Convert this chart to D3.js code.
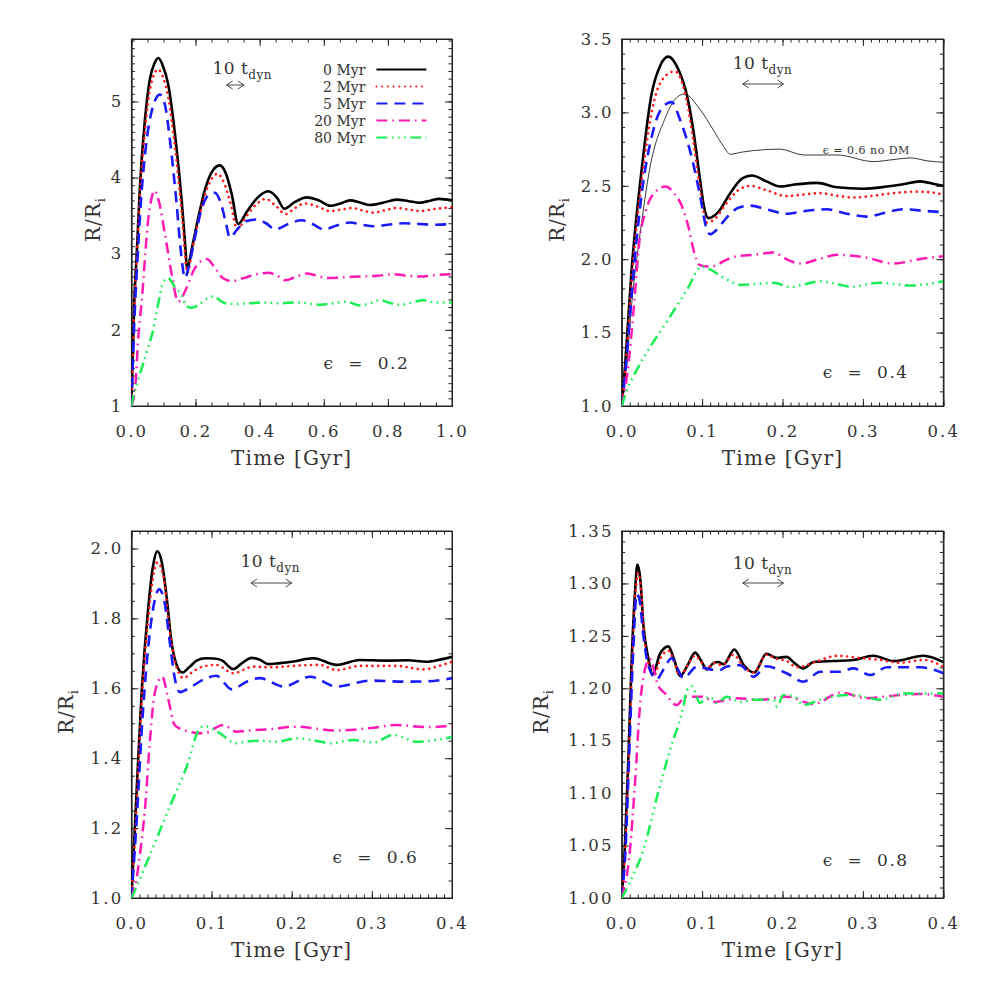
<!DOCTYPE html>
<html><head><meta charset="utf-8">
<script src="https://cdn.jsdelivr.net/npm/d3@7"></script>
<style>
body{margin:0;background:#fff}
text{font-family:"DejaVu Serif",serif;fill:#333}
</style>
</head><body>
<svg id="c" width="981" height="981"></svg>
<script>
// ---------------- DATA ----------------
const seriesLabels = ["0 Myr","2 Myr","5 Myr","20 Myr","80 Myr"];
const panelLabels = ["\u03f5  =  0.2","\u03f5  =  0.4","\u03f5  =  0.6","\u03f5  =  0.8"];
const noDMLabel = "\u03f5 = 0.6 no DM";

// Panel 1 (eps = 0.2), [time Gyr, R/Ri]
const p1_0 = [[0,1.0],[0.003,1.5],[0.009,2.37],[0.0165,2.99],[0.027,3.91],[0.042,4.75],[0.058,5.3],[0.072,5.5],[0.084,5.57],[0.097,5.48],[0.115,5.22],[0.136,4.57],[0.157,3.69],[0.167,3.16],[0.174,2.81],[0.19,3.1],[0.21,3.5],[0.23,3.85],[0.255,4.1],[0.276,4.16],[0.295,4.05],[0.313,3.78],[0.333,3.39],[0.36,3.55],[0.39,3.72],[0.427,3.82],[0.455,3.73],[0.477,3.59],[0.51,3.68],[0.547,3.74],[0.585,3.7],[0.62,3.63],[0.652,3.66],[0.682,3.70],[0.715,3.67],[0.744,3.64],[0.785,3.67],[0.827,3.71],[0.865,3.69],[0.90,3.67],[0.935,3.70],[0.96,3.72],[1.0,3.70]];
const p1_2 = [[0,1.0],[0.004,1.55],[0.01,2.38],[0.017,2.95],[0.028,3.85],[0.043,4.65],[0.06,5.2],[0.083,5.42],[0.1,5.3],[0.115,5.05],[0.136,4.4],[0.157,3.55],[0.175,2.75],[0.19,3.05],[0.21,3.45],[0.23,3.78],[0.25,3.98],[0.269,4.05],[0.29,3.92],[0.31,3.65],[0.33,3.32],[0.36,3.5],[0.39,3.65],[0.419,3.72],[0.45,3.63],[0.481,3.52],[0.51,3.6],[0.541,3.66],[0.58,3.62],[0.62,3.56],[0.655,3.58],[0.69,3.60],[0.72,3.57],[0.755,3.54],[0.79,3.57],[0.827,3.60],[0.865,3.58],[0.90,3.56],[0.95,3.59],[1.0,3.61]];
const p1_5 = [[0,1.0],[0.004,1.5],[0.01,2.2],[0.018,2.85],[0.03,3.7],[0.045,4.4],[0.065,4.9],[0.089,5.09],[0.105,4.95],[0.12,4.5],[0.14,3.7],[0.155,3.0],[0.167,2.68],[0.18,2.85],[0.2,3.25],[0.22,3.6],[0.24,3.77],[0.26,3.80],[0.28,3.65],[0.295,3.4],[0.307,3.21],[0.33,3.32],[0.36,3.43],[0.39,3.45],[0.42,3.4],[0.448,3.32],[0.49,3.39],[0.531,3.44],[0.565,3.39],[0.60,3.32],[0.64,3.37],[0.682,3.41],[0.72,3.38],[0.755,3.36],[0.8,3.38],[0.85,3.40],[0.9,3.39],[0.95,3.38],[1.0,3.39]];
const p1_20 = [[0,1.0],[0.012,1.25],[0.022,1.93],[0.032,2.37],[0.053,3.47],[0.064,3.75],[0.072,3.83],[0.085,3.7],[0.105,3.25],[0.126,2.72],[0.146,2.37],[0.172,2.55],[0.198,2.81],[0.235,2.93],[0.26,2.82],[0.285,2.68],[0.313,2.64],[0.35,2.68],[0.39,2.73],[0.427,2.75],[0.455,2.71],[0.48,2.65],[0.515,2.70],[0.547,2.74],[0.58,2.71],[0.609,2.68],[0.66,2.69],[0.713,2.70],[0.765,2.71],[0.817,2.73],[0.86,2.71],[0.90,2.70],[0.95,2.72],[1.0,2.73]];
const p1_80 = [[0,1.0],[0.006,1.12],[0.02,1.33],[0.037,1.56],[0.052,1.77],[0.068,2.0],[0.084,2.35],[0.1,2.63],[0.114,2.68],[0.136,2.56],[0.157,2.45],[0.172,2.31],[0.188,2.29],[0.21,2.33],[0.235,2.41],[0.256,2.44],[0.275,2.39],[0.292,2.35],[0.33,2.34],[0.37,2.35],[0.41,2.36],[0.46,2.35],[0.52,2.36],[0.59,2.33],[0.63,2.35],[0.67,2.37],[0.713,2.32],[0.745,2.35],[0.775,2.39],[0.81,2.35],[0.84,2.33],[0.875,2.36],[0.91,2.39],[0.95,2.36],[1.0,2.36]];

// Panel 2 (eps = 0.4)
const p2_0 = [[0,1.0],[0.004,1.26],[0.0125,1.94],[0.025,2.62],[0.037,3.12],[0.048,3.32],[0.058,3.38],[0.068,3.32],[0.083,3.07],[0.089,2.88],[0.0975,2.54],[0.1016,2.38],[0.108,2.28],[0.12,2.32],[0.135,2.45],[0.15,2.55],[0.162,2.57],[0.18,2.53],[0.197,2.495],[0.218,2.51],[0.243,2.52],[0.268,2.49],[0.30,2.48],[0.33,2.495],[0.35,2.51],[0.371,2.53],[0.39,2.51],[0.4,2.50]];
const p2_2 = [[0,1.0],[0.004,1.22],[0.013,1.9],[0.026,2.58],[0.038,3.02],[0.05,3.22],[0.066,3.28],[0.078,3.15],[0.088,2.85],[0.097,2.5],[0.106,2.25],[0.115,2.27],[0.13,2.38],[0.145,2.47],[0.16,2.50],[0.18,2.47],[0.205,2.43],[0.225,2.44],[0.247,2.45],[0.27,2.43],[0.288,2.42],[0.31,2.43],[0.33,2.445],[0.367,2.46],[0.385,2.455],[0.4,2.44]];
const p2_5 = [[0,1.0],[0.005,1.25],[0.013,1.8],[0.025,2.45],[0.038,2.85],[0.05,3.03],[0.062,3.07],[0.0726,2.95],[0.089,2.65],[0.0975,2.43],[0.106,2.2],[0.11,2.17],[0.118,2.2],[0.13,2.28],[0.145,2.35],[0.16,2.365],[0.18,2.34],[0.205,2.31],[0.23,2.33],[0.255,2.34],[0.28,2.31],[0.305,2.29],[0.33,2.32],[0.35,2.34],[0.375,2.33],[0.4,2.32]];
const p2_20 = [[0,1.0],[0.007,1.22],[0.0166,1.77],[0.0215,2.1],[0.03,2.33],[0.042,2.46],[0.055,2.495],[0.065,2.45],[0.075,2.36],[0.083,2.22],[0.09,2.05],[0.097,1.96],[0.108,1.95],[0.118,1.96],[0.128,1.99],[0.143,2.02],[0.165,2.03],[0.189,2.045],[0.205,2.0],[0.222,1.97],[0.245,2.0],[0.268,2.03],[0.305,2.01],[0.338,1.97],[0.37,2.0],[0.4,2.02]];
const p2_80 = [[0,1.0],[0.006,1.1],[0.0187,1.245],[0.035,1.4],[0.052,1.54],[0.066,1.66],[0.081,1.79],[0.0996,1.95],[0.11,1.93],[0.122,1.89],[0.135,1.85],[0.147,1.825],[0.165,1.83],[0.189,1.84],[0.21,1.81],[0.228,1.83],[0.247,1.85],[0.268,1.83],[0.288,1.81],[0.305,1.83],[0.321,1.84],[0.34,1.83],[0.359,1.82],[0.38,1.83],[0.4,1.85]];
const p2_noDM = [[0,1.0],[0.006,1.27],[0.0125,1.7],[0.0228,2.17],[0.035,2.62],[0.054,2.96],[0.065,3.08],[0.078,3.125],[0.0975,3.02],[0.114,2.88],[0.1265,2.77],[0.135,2.715],[0.15,2.73],[0.164,2.74],[0.197,2.75],[0.226,2.71],[0.268,2.71],[0.313,2.665],[0.34,2.68],[0.359,2.69],[0.38,2.67],[0.4,2.66]];

// Panel 3 (eps = 0.6)
const p3_0 = [[0,1.0],[0.0045,1.21],[0.0128,1.59],[0.021,1.83],[0.027,1.95],[0.0323,1.992],[0.038,1.96],[0.044,1.86],[0.05,1.733],[0.056,1.67],[0.0635,1.645],[0.072,1.66],[0.082,1.68],[0.092,1.686],[0.103,1.685],[0.113,1.68],[0.127,1.655],[0.138,1.672],[0.15,1.687],[0.16,1.682],[0.171,1.669],[0.185,1.672],[0.2,1.676],[0.227,1.686],[0.256,1.667],[0.285,1.681],[0.318,1.679],[0.345,1.68],[0.368,1.676],[0.385,1.682],[0.4,1.69]];
const p3_2 = [[0,1.0],[0.005,1.2],[0.013,1.57],[0.021,1.8],[0.0323,1.96],[0.04,1.92],[0.047,1.78],[0.055,1.67],[0.065,1.629],[0.075,1.645],[0.09,1.663],[0.106,1.667],[0.127,1.643],[0.152,1.662],[0.175,1.66],[0.202,1.664],[0.235,1.667],[0.256,1.652],[0.285,1.664],[0.331,1.664],[0.364,1.654],[0.385,1.665],[0.4,1.676]];
const p3_5 = [[0,1.0],[0.006,1.2],[0.014,1.52],[0.023,1.76],[0.0348,1.883],[0.041,1.85],[0.048,1.73],[0.054,1.63],[0.0606,1.589],[0.075,1.605],[0.09,1.625],[0.106,1.636],[0.125,1.597],[0.145,1.62],[0.16,1.629],[0.19,1.605],[0.223,1.633],[0.256,1.605],[0.298,1.622],[0.339,1.619],[0.37,1.62],[0.4,1.629]];
const p3_20 = [[0,1.0],[0.006,1.05],[0.012,1.15],[0.017,1.257],[0.023,1.447],[0.0294,1.59],[0.0386,1.633],[0.045,1.58],[0.054,1.495],[0.0648,1.481],[0.0897,1.471],[0.1147,1.495],[0.131,1.476],[0.15,1.48],[0.173,1.483],[0.206,1.49],[0.256,1.479],[0.298,1.486],[0.331,1.495],[0.368,1.489],[0.4,1.492]];
const p3_80 = [[0,1.0],[0.0066,1.033],[0.0273,1.147],[0.048,1.262],[0.069,1.376],[0.0856,1.486],[0.0918,1.492],[0.1105,1.471],[0.13,1.443],[0.145,1.448],[0.16,1.45],[0.181,1.447],[0.206,1.457],[0.23,1.45],[0.248,1.443],[0.277,1.452],[0.302,1.445],[0.327,1.467],[0.356,1.447],[0.38,1.452],[0.4,1.46]];

// Panel 4 (eps = 0.8)
const p4_0 = [[0,1.0],[0.004,1.05],[0.0083,1.133],[0.0125,1.229],[0.0166,1.292],[0.0195,1.318],[0.023,1.305],[0.027,1.26],[0.033,1.229],[0.0386,1.2136],[0.0477,1.233],[0.058,1.240],[0.065,1.228],[0.0726,1.2117],[0.082,1.222],[0.0913,1.234],[0.099,1.226],[0.106,1.218],[0.114,1.224],[0.12,1.225],[0.127,1.223],[0.14,1.237],[0.152,1.222],[0.165,1.215],[0.18,1.233],[0.193,1.229],[0.205,1.230],[0.215,1.224],[0.226,1.219],[0.2386,1.225],[0.263,1.226],[0.288,1.227],[0.313,1.231],[0.338,1.226],[0.3755,1.231],[0.4,1.225]];
const p4_2 = [[0,1.0],[0.004,1.04],[0.0083,1.12],[0.0125,1.215],[0.0166,1.285],[0.0205,1.31],[0.024,1.295],[0.028,1.25],[0.034,1.222],[0.04,1.212],[0.048,1.228],[0.058,1.236],[0.065,1.226],[0.072,1.212],[0.082,1.222],[0.091,1.231],[0.099,1.225],[0.106,1.219],[0.115,1.224],[0.125,1.222],[0.139,1.232],[0.15,1.222],[0.164,1.215],[0.18,1.232],[0.193,1.228],[0.205,1.226],[0.218,1.22],[0.24,1.225],[0.268,1.231],[0.295,1.229],[0.3215,1.227],[0.3465,1.2244],[0.3755,1.227],[0.4,1.2206]];
const p4_5 = [[0,1.0],[0.005,1.05],[0.0095,1.14],[0.014,1.23],[0.0187,1.290],[0.022,1.285],[0.027,1.25],[0.033,1.222],[0.0436,1.2086],[0.052,1.218],[0.0623,1.2286],[0.07,1.218],[0.0767,1.2095],[0.0934,1.2206],[0.11,1.218],[0.1224,1.2174],[0.13,1.2206],[0.147,1.222],[0.164,1.211],[0.18,1.221],[0.205,1.2143],[0.226,1.2063],[0.247,1.2158],[0.272,1.2158],[0.288,1.219],[0.309,1.2127],[0.33,1.22],[0.371,1.22],[0.4,1.2143]];
const p4_20 = [[0,1.0],[0.0103,1.046],[0.0166,1.11],[0.0228,1.184],[0.028,1.215],[0.035,1.228],[0.04,1.218],[0.045,1.203],[0.054,1.195],[0.0685,1.184],[0.079,1.192],[0.0996,1.192],[0.116,1.187],[0.143,1.1905],[0.172,1.189],[0.205,1.192],[0.2386,1.185],[0.272,1.1958],[0.305,1.1905],[0.334,1.1927],[0.371,1.1946],[0.4,1.192]];
const p4_80 = [[0,1.0],[0.01,1.015],[0.027,1.046],[0.0456,1.1015],[0.06,1.141],[0.0767,1.1825],[0.081,1.198],[0.087,1.202],[0.0975,1.186],[0.104,1.19],[0.11,1.192],[0.118,1.186],[0.131,1.192],[0.147,1.187],[0.165,1.189],[0.189,1.189],[0.193,1.1825],[0.201,1.1936],[0.215,1.192],[0.226,1.184],[0.25,1.19],[0.288,1.1936],[0.3216,1.189],[0.35,1.195],[0.4,1.195]];

// Ticks
const p1XTicks = [0,0.2,0.4,0.6,0.8,1.0], p1YTicks = [1,2,3,4,5];
const p2XTicks = [0,0.1,0.2,0.3,0.4],     p2YTicks = [1.0,1.5,2.0,2.5,3.0,3.5];
const p3XTicks = [0,0.1,0.2,0.3,0.4],     p3YTicks = [1.0,1.2,1.4,1.6,1.8,2.0];
const p4XTicks = [0,0.1,0.2,0.3,0.4],     p4YTicks = [1.00,1.05,1.10,1.15,1.20,1.25,1.30,1.35];
const xDomains = [[0,1],[0,0.4],[0,0.4],[0,0.4]];
const yDomains = [[1,5.82],[1,3.5],[1,2.05],[1,1.35]];
const xMinorStep = [0.05,0.01,0.01,0.01];
const yMinorStep = [0.1,0.1,0.05,0.01];
// 10 t_dyn arrows: start time and length (Gyr)
const tdynStart = [0.297,0.1506,0.1492,0.1506];
const tdynLen = [0.054,0.0506,0.0508,0.0506];

// ---------------- LAYOUT / STYLE ----------------
const layout = [
  {left:131.4, top:39, w:320.6, h:367, yFmt:"d",   ylabOff:31, tdX:81, tdY:35, arY:46, epsX:192, epsY:330},
  {left:621.7, top:39, w:321.6, h:367, yFmt:".1f", ylabOff:58, tdX:111,tdY:30, arY:45, epsX:201, epsY:339},
  {left:131.4, top:531,w:320.6, h:367, yFmt:".1f", ylabOff:58, tdX:109,tdY:36, arY:52, epsX:201, epsY:332},
  {left:621.7, top:531,w:321.6, h:367, yFmt:".2f", ylabOff:74, tdX:111,tdY:38, arY:52, epsX:201, epsY:335}
];
const styles = [
  {color:"#000000", width:2.6, dash:null, cap:"butt"},
  {color:"#ff1a1a", width:2.6, dash:"0.1 5.6", cap:"round"},
  {color:"#1a1aff", width:2.6, dash:"11 7", cap:"butt"},
  {color:"#ff1ab4", width:2.5, dash:"11 5 1.6 5", cap:"butt"},
  {color:"#1aee55", width:2.5, dash:"11 4.5 1.6 4.5 1.6 4.5 1.6 4.5", cap:"butt"}
];
const panelSeries = [
  [p1_0,p1_2,p1_5,p1_20,p1_80],
  [p2_0,p2_2,p2_5,p2_20,p2_80],
  [p3_0,p3_2,p3_5,p3_20,p3_80],
  [p4_0,p4_2,p4_5,p4_20,p4_80]
];
const xTicksAll = [p1XTicks,p2XTicks,p3XTicks,p4XTicks];
const yTicksAll = [p1YTicks,p2YTicks,p3YTicks,p4YTicks];

const svg = d3.select("#c");
const defs = svg.append("defs");
const axisColor = "#222";

function minorVals(dom, step){
  const out=[]; const n=Math.round((dom[1]-dom[0])/step);
  for(let i=0;i<=n;i++){ const v=dom[0]+i*step; if(v<=dom[1]+1e-9) out.push(+v.toFixed(6)); }
  return out;
}

layout.forEach((L,pi)=>{
  const x = d3.scaleLinear().domain(xDomains[pi]).range([0,L.w]);
  const y = d3.scaleLinear().domain(yDomains[pi]).range([L.h,0]);
  const g = svg.append("g").attr("transform",`translate(${L.left},${L.top})`);
  defs.append("clipPath").attr("id","clip"+pi).append("rect").attr("width",L.w).attr("height",L.h);

  const styleAxis = sel=>{
    sel.selectAll("path.domain").attr("stroke",axisColor).attr("stroke-width",1);
    sel.selectAll(".tick line").attr("stroke",axisColor).attr("stroke-width",1);
  };
  const xMin = minorVals(xDomains[pi], xMinorStep[pi]);
  const yMin = minorVals(yDomains[pi], yMinorStep[pi]);

  // minor ticks
  g.append("g").attr("transform",`translate(0,${L.h})`).call(d3.axisBottom(x).tickValues(xMin).tickSize(-3.5).tickSizeOuter(0).tickFormat("")).call(styleAxis);
  g.append("g").call(d3.axisTop(x).tickValues(xMin).tickSize(-3.5).tickSizeOuter(0).tickFormat("")).call(styleAxis);
  g.append("g").call(d3.axisLeft(y).tickValues(yMin).tickSize(-3.5).tickSizeOuter(0).tickFormat("")).call(styleAxis);
  g.append("g").attr("transform",`translate(${L.w},0)`).call(d3.axisRight(y).tickValues(yMin).tickSize(-3.5).tickSizeOuter(0).tickFormat("")).call(styleAxis);

  // major ticks with labels
  const xb = g.append("g").attr("transform",`translate(0,${L.h})`)
    .call(d3.axisBottom(x).tickValues(xTicksAll[pi]).tickSize(-7).tickSizeOuter(0).tickPadding(19).tickFormat(d3.format(".1f"))).call(styleAxis);
  xb.selectAll("text").attr("font-size",16.5).attr("letter-spacing","2.2px").attr("font-family","DejaVu Serif").attr("fill","#333");
  g.append("g").call(d3.axisTop(x).tickValues(xTicksAll[pi]).tickSize(-7).tickSizeOuter(0).tickFormat("")).call(styleAxis);
  const yl = g.append("g")
    .call(d3.axisLeft(y).tickValues(yTicksAll[pi]).tickSize(-7).tickSizeOuter(0).tickPadding(8).tickFormat(d3.format(L.yFmt))).call(styleAxis);
  yl.selectAll("text").attr("font-size",16.5).attr("letter-spacing","2.2px").attr("font-family","DejaVu Serif").attr("fill","#333");
  g.append("g").attr("transform",`translate(${L.w},0)`).call(d3.axisRight(y).tickValues(yTicksAll[pi]).tickSize(-7).tickSizeOuter(0).tickFormat("")).call(styleAxis);

  // frame
  g.append("rect").attr("width",L.w).attr("height",L.h).attr("fill","none").attr("stroke",axisColor).attr("stroke-width",1);

  // axis titles
  g.append("text").attr("x",L.w/2).attr("y",L.h+59).attr("text-anchor","middle")
    .attr("font-size",20).attr("letter-spacing","1.2px").text("Time [Gyr]");
  const yt = g.append("text").attr("transform",`translate(${-L.ylabOff},${L.h/2-3}) rotate(-90)`)
    .attr("text-anchor","middle").attr("font-size",20).attr("letter-spacing","1px");
  yt.append("tspan").text("R/R");
  yt.append("tspan").attr("font-size",13).attr("dy",5).text("i");

  // curves
  const line = d3.line().x(d=>x(d[0])).y(d=>y(d[1])).curve(d3.curveMonotoneX);
  const cg = g.append("g").attr("clip-path",`url(#clip${pi})`);
  if(pi===1){
    cg.append("path").attr("d",line(p2_noDM)).attr("fill","none").attr("stroke","#222").attr("stroke-width",0.9);
  }
  panelSeries[pi].forEach((s,si)=>{
    const st = styles[si];
    cg.append("path").attr("d",line(s)).attr("fill","none")
      .attr("stroke",st.color).attr("stroke-width",st.width)
      .attr("stroke-dasharray",st.dash).attr("stroke-linecap",st.cap).attr("stroke-linejoin","round");
  });

  // 10 t_dyn annotation
  const td = g.append("text").attr("x",L.tdX).attr("y",L.tdY).attr("font-size",17).attr("letter-spacing","0.5px");
  td.append("tspan").text("10 t");
  td.append("tspan").attr("font-size",12).attr("dy",5).text("dyn");
  const ax0 = x(tdynStart[pi]), ax1 = x(tdynStart[pi]+tdynLen[pi]), ay = L.arY;
  g.append("path").attr("d",`M${ax0},${ay}H${ax1}M${ax0+6},${ay-4}L${ax0},${ay}L${ax0+6},${ay+4}M${ax1-6},${ay-4}L${ax1},${ay}L${ax1-6},${ay+4}`)
    .attr("fill","none").attr("stroke","#333").attr("stroke-width",0.9);

  // eps label
  g.append("text").attr("x",L.epsX).attr("y",L.epsY).attr("font-size",17).attr("letter-spacing","1.5px")
    .style("white-space","pre").text(panelLabels[pi]);

  if(pi===1){
    g.append("text").attr("x",201).attr("y",115).attr("font-size",11).attr("letter-spacing","0.5px")
      .style("white-space","pre").text(noDMLabel);
  }

  // legend in panel 1
  if(pi===0){
    seriesLabels.forEach((lab,i)=>{
      const ly = 30.5 + i*17;
      g.append("text").attr("x",234).attr("y",ly+5).attr("text-anchor","end").attr("font-size",14).text(lab);
      const st = styles[i];
      g.append("line").attr("x1",245).attr("x2",295).attr("y1",ly).attr("y2",ly)
        .attr("stroke",st.color).attr("stroke-width",i===0?2.2:2)
        .attr("stroke-dasharray",st.dash).attr("stroke-linecap",st.cap);
    });
  }
});
</script>
</body></html>
